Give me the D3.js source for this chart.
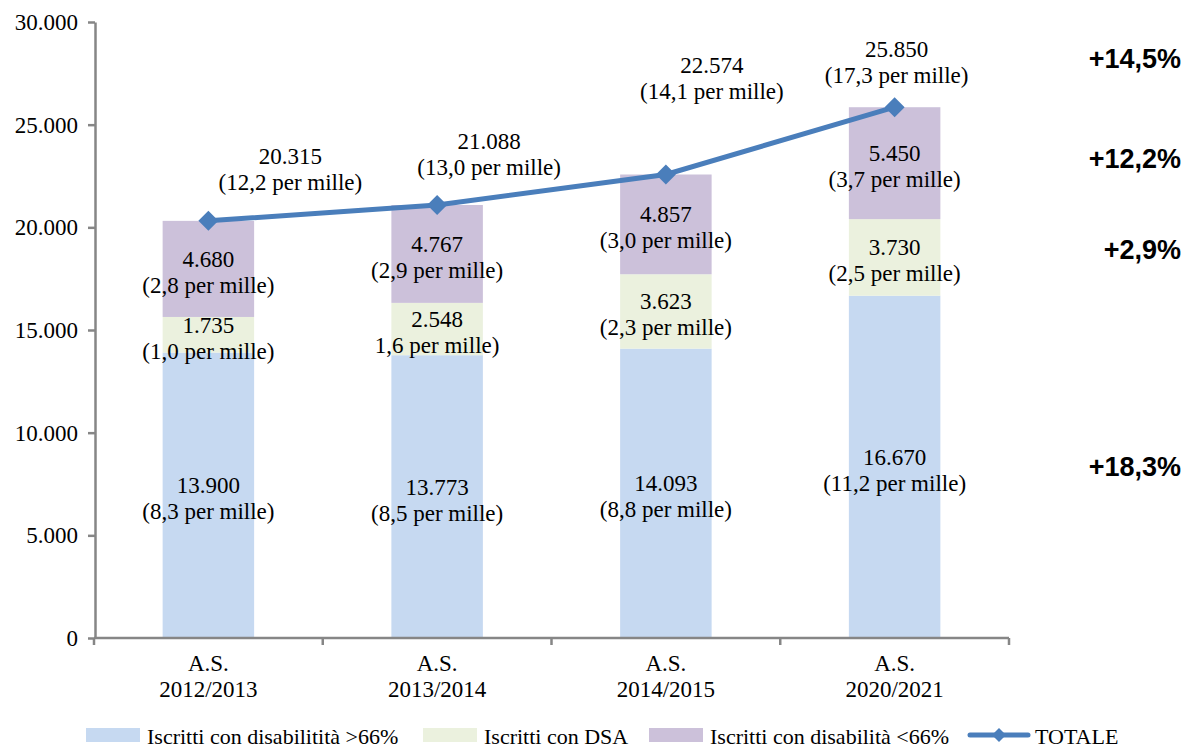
<!DOCTYPE html>
<html>
<head>
<meta charset="utf-8">
<script src="https://cdn.jsdelivr.net/npm/d3@7"></script>
<style>
  body { margin: 0; background: #fff; }
  svg text { font-family: "Liberation Serif", "DejaVu Serif", "Noto Serif", serif; fill: #000; }
  svg text.pct { font-family: "Liberation Sans", Arial, sans-serif; font-weight: bold; }
</style>
</head>
<body>
<script>
// categorie (anni scolastici)
var anni = ["A.S.|2012/2013", "A.S.|2013/2014", "A.S.|2014/2015", "A.S.|2020/2021"];
// serie
var disabOltre66 = [13900, 13773, 14093, 16670];
var dsa = [1735, 2548, 3623, 3730];
var disabSotto66 = [4680, 4767, 4857, 5450];
var totale = [20315, 21088, 22574, 25850];
// etichette per mille
var mOltre66 = ["(8,3 per mille)", "(8,5 per mille)", "(8,8 per mille)", "(11,2 per mille)"];
var mDsa = ["(1,0 per mille)", "1,6 per mille)", "(2,3 per mille)", "(2,5 per mille)"];
var mSotto66 = ["(2,8 per mille)", "(2,9 per mille)", "(3,0 per mille)", "(3,7 per mille)"];
var mTotale = ["(12,2 per mille)", "(13,0 per mille)", "(14,1 per mille)", "(17,3 per mille)"];
// variazioni percentuali (ultimo anno)
var variazioni = ["+18,3%", "+2,9%", "+12,2%", "+14,5%"];
var yTicks = [0, 5000, 10000, 15000, 20000, 25000, 30000];

var serieNomi = ["Iscritti con disabilitità >66%", "Iscritti con DSA", "Iscritti con disabilità <66%"];
var colori = ["#c6d9f1", "#ebf1de", "#ccc1da"];
var coloreLinea = "#4a7ebb";

// spostamento etichette del totale rispetto al punto
var offTot = [[82, -51], [52, -50], [46, -95], [2, -44]];
// piccoli ritocchi verticali per le variazioni
var nudgePct = [3, -4, -1, -1];

var it = d3.formatLocale({decimal: ",", thousands: ".", grouping: [3], currency: ["", "€"]});
var fmt = it.format(",d");
var FS = 23;

var W = 1189, H = 749;
var svg = d3.select("body").append("svg").attr("width", W).attr("height", H)
	.attr("font-family", "Liberation Serif, DejaVu Serif, serif");

var x = d3.scaleBand().domain(anni).range([94, 1009]);
var y = d3.scaleLinear().domain([0, 30000]).range([638, 22]);
var barW = x.bandwidth() * 0.4;

var serie = [disabOltre66, dsa, disabSotto66];
var etich = [mOltre66, mDsa, mSotto66];

// asse y
var yAxis = svg.append("g")
	.attr("transform", "translate(95,0)")
	.call(d3.axisLeft(y).tickValues(yTicks).tickFormat(fmt).tickSize(7).tickSizeOuter(0).tickPadding(10));
yAxis.attr("font-family", null).attr("font-size", null);
yAxis.selectAll("line, path").attr("stroke", "#868686").attr("stroke-width", 2.5);
yAxis.selectAll("text").attr("font-size", FS).attr("fill", "#000");

// barre impilate
anni.forEach(function(a, i) {
	var base = 0;
	serie.forEach(function(s, k) {
		var v = s[i];
		svg.append("rect")
			.attr("x", x(a) + (x.bandwidth() - barW) / 2)
			.attr("y", y(base + v))
			.attr("width", barW)
			.attr("height", y(base) - y(base + v))
			.attr("fill", colori[k]);
		var cy = y(base + v / 2) + 3;
		var t = svg.append("text")
			.attr("text-anchor", "middle")
			.attr("font-size", FS);
		t.append("tspan").attr("x", x(a) + x.bandwidth() / 2).attr("y", cy - 5).text(fmt(v));
		t.append("tspan").attr("x", x(a) + x.bandwidth() / 2).attr("y", cy + 21).text(etich[k][i]);
		base += v;
	});
});

// asse x
var xa = svg.append("g");
xa.append("line").attr("x1", 94).attr("x2", 1009).attr("y1", 638).attr("y2", 638)
	.attr("stroke", "#868686").attr("stroke-width", 2.5);
anni.concat([null]).forEach(function(a) {
	var px = a === null ? 1009 : x(a);
	xa.append("line").attr("x1", px).attr("x2", px).attr("y1", 638).attr("y2", 645)
		.attr("stroke", "#868686").attr("stroke-width", 2.5);
});
anni.forEach(function(a) {
	var parti = a.split("|");
	var t = xa.append("text").attr("text-anchor", "middle").attr("font-size", FS);
	t.append("tspan").attr("x", x(a) + x.bandwidth() / 2).attr("y", 671).text(parti[0]);
	t.append("tspan").attr("x", x(a) + x.bandwidth() / 2).attr("y", 697).text(parti[1]);
});

// linea totale
var cx = function(i) { return x(anni[i]) + x.bandwidth() / 2; };
var line = d3.line().x(function(d, i) { return cx(i); }).y(function(d) { return y(d); });
svg.append("path").datum(totale).attr("d", line)
	.attr("fill", "none").attr("stroke", coloreLinea).attr("stroke-width", 5);

function diamond(px, py, r) {
	return "M" + px + "," + (py - r) + "L" + (px + r) + "," + py + "L" + px + "," + (py + r) + "L" + (px - r) + "," + py + "Z";
}
svg.selectAll(".pt").data(totale).enter().append("path")
	.attr("d", function(d, i) { return diamond(cx(i), y(d), 10); })
	.attr("fill", coloreLinea);

totale.forEach(function(v, i) {
	var px = cx(i) + offTot[i][0], py = y(v) + offTot[i][1];
	var t = svg.append("text").attr("text-anchor", "middle").attr("font-size", FS);
	t.append("tspan").attr("x", px).attr("y", py - 6).text(fmt(v));
	t.append("tspan").attr("x", px).attr("y", py + 20).text(mTotale[i]);
});

// variazioni a destra
var ultimo = anni.length - 1;
var acc = 0;
var pctY = [];
serie.forEach(function(s) {
	pctY.push(y(acc + s[ultimo] / 2));
	acc += s[ultimo];
});
pctY.push(y(totale[ultimo]) + offTot[ultimo][1]);
variazioni.forEach(function(v, k) {
	svg.append("text").attr("class", "pct")
		.attr("x", 1181).attr("y", pctY[k] + 6 + nudgePct[k])
		.attr("text-anchor", "end").attr("font-size", 27)
		.text(v);
});

// legenda
var leg = [
	{nome: serieNomi[0], x: 86, tipo: "rect", c: colori[0]},
	{nome: serieNomi[1], x: 423, tipo: "rect", c: colori[1]},
	{nome: serieNomi[2], x: 649, tipo: "rect", c: colori[2]},
	{nome: "TOTALE", x: 970, tipo: "line", c: coloreLinea}
];
leg.forEach(function(l) {
	if (l.tipo === "rect") {
		svg.append("rect").attr("x", l.x).attr("y", 728).attr("width", 54).attr("height", 14).attr("fill", l.c);
	} else {
		svg.append("line").attr("x1", l.x).attr("x2", l.x + 58).attr("y1", 735).attr("y2", 735)
			.attr("stroke", l.c).attr("stroke-width", 5).attr("stroke-linecap", "round");
		svg.append("path").attr("d", diamond(l.x + 29, 735, 7)).attr("fill", l.c);
	}
	svg.append("text").attr("x", l.x + (l.tipo === "rect" ? 61 : 65)).attr("y", 744)
		.attr("font-size", 22).text(l.nome);
});
</script>
</body>
</html>
